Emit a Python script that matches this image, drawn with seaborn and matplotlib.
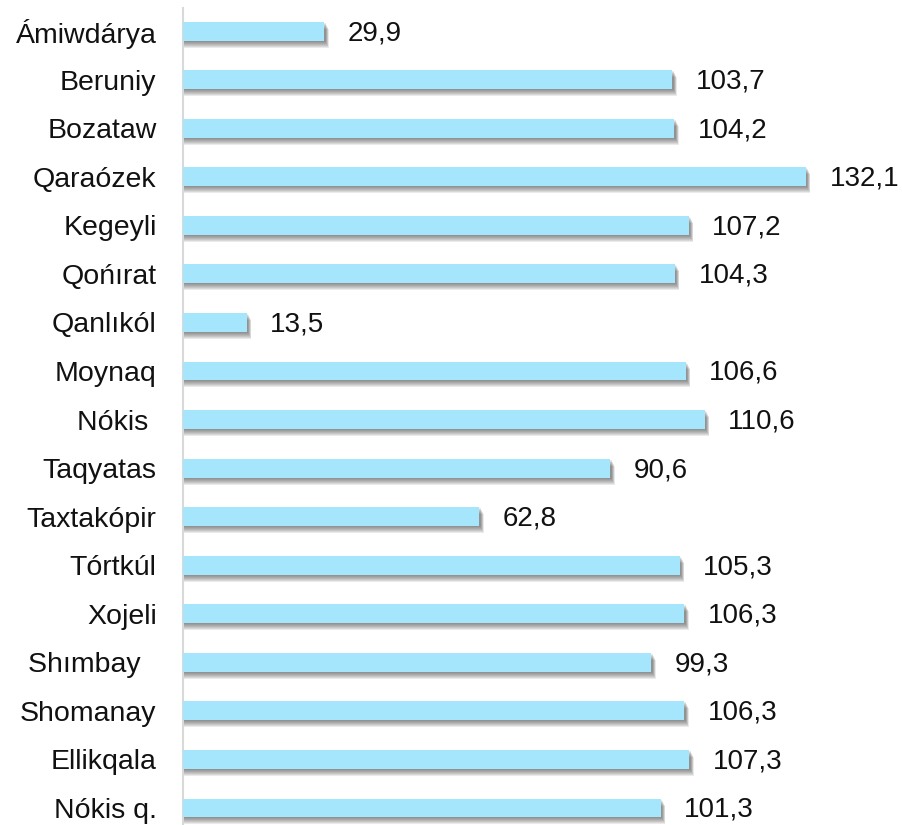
import numpy as np
import pandas as pd
import matplotlib.pyplot as plt
import seaborn as sns

# Data
districts = ['Ámiwdárya', 'Beruniy', 'Bozataw', 'Qaraózek', 'Kegeyli', 'Qońırat',
             'Qanlıkól', 'Moynaq', 'Nókis ', 'Taqyatas', 'Taxtakópir', 'Tórtkúl',
             'Xojeli', 'Shımbay  ', 'Shomanay', 'Ellikqala', 'Nókis q.']
values = [29.9, 103.7, 104.2, 132.1, 107.2, 104.3, 13.5, 106.6, 110.6, 90.6,
          62.8, 105.3, 106.3, 99.3, 106.3, 107.3, 101.3]
labels = [f'{v:.1f}'.replace('.', ',') for v in values]

df = pd.DataFrame({'district': districts, 'value': values})

sns.set_style('white')
plt.rcParams['font.family'] = ['Liberation Sans', 'DejaVu Sans']

fig = plt.figure(figsize=(9.03, 8.25), dpi=100)
ax = fig.add_axes([183 / 903, 0, 720 / 903, 817 / 825])

pos = np.arange(len(values))
bar_h = 0.39
px_y = 1 / 48.56
px_x = 1 / 4.716

# Soft drop shadow under each bar (stacked translucent layers)
for k in range(1, 8):
    ax.barh(pos + k * px_y, np.array(values) + (1 + k * 0.5) * px_x,
            height=bar_h, color='#404040', alpha=0.11, linewidth=0, zorder=1)

sns.barplot(data=df, x='value', y='district', orient='h', color='#A6E6FC',
            saturation=1, width=bar_h, ax=ax, zorder=3)
for p in ax.patches[-len(values):]:
    p.set_linewidth(0)

for y, v, t in zip(pos, values, labels):
    ax.text(v + 5.0, y + 0.04, t, va='center', ha='left', fontsize=20, color='#111111')

ax.set_xlim(0, 720 / 4.716)
ax.set_ylim(16.35, -0.475)
ax.set_xlabel('')
ax.set_ylabel('')
ax.set_xticks([])
ax.tick_params(axis='y', length=0, pad=19, labelsize=20.5, labelcolor='#111111')
for s in ['top', 'right', 'bottom']:
    ax.spines[s].set_visible(False)
ax.spines['left'].set_color('#d9d9d9')
ax.spines['left'].set_linewidth(1.5)

fig.savefig('out.png', dpi=100)
